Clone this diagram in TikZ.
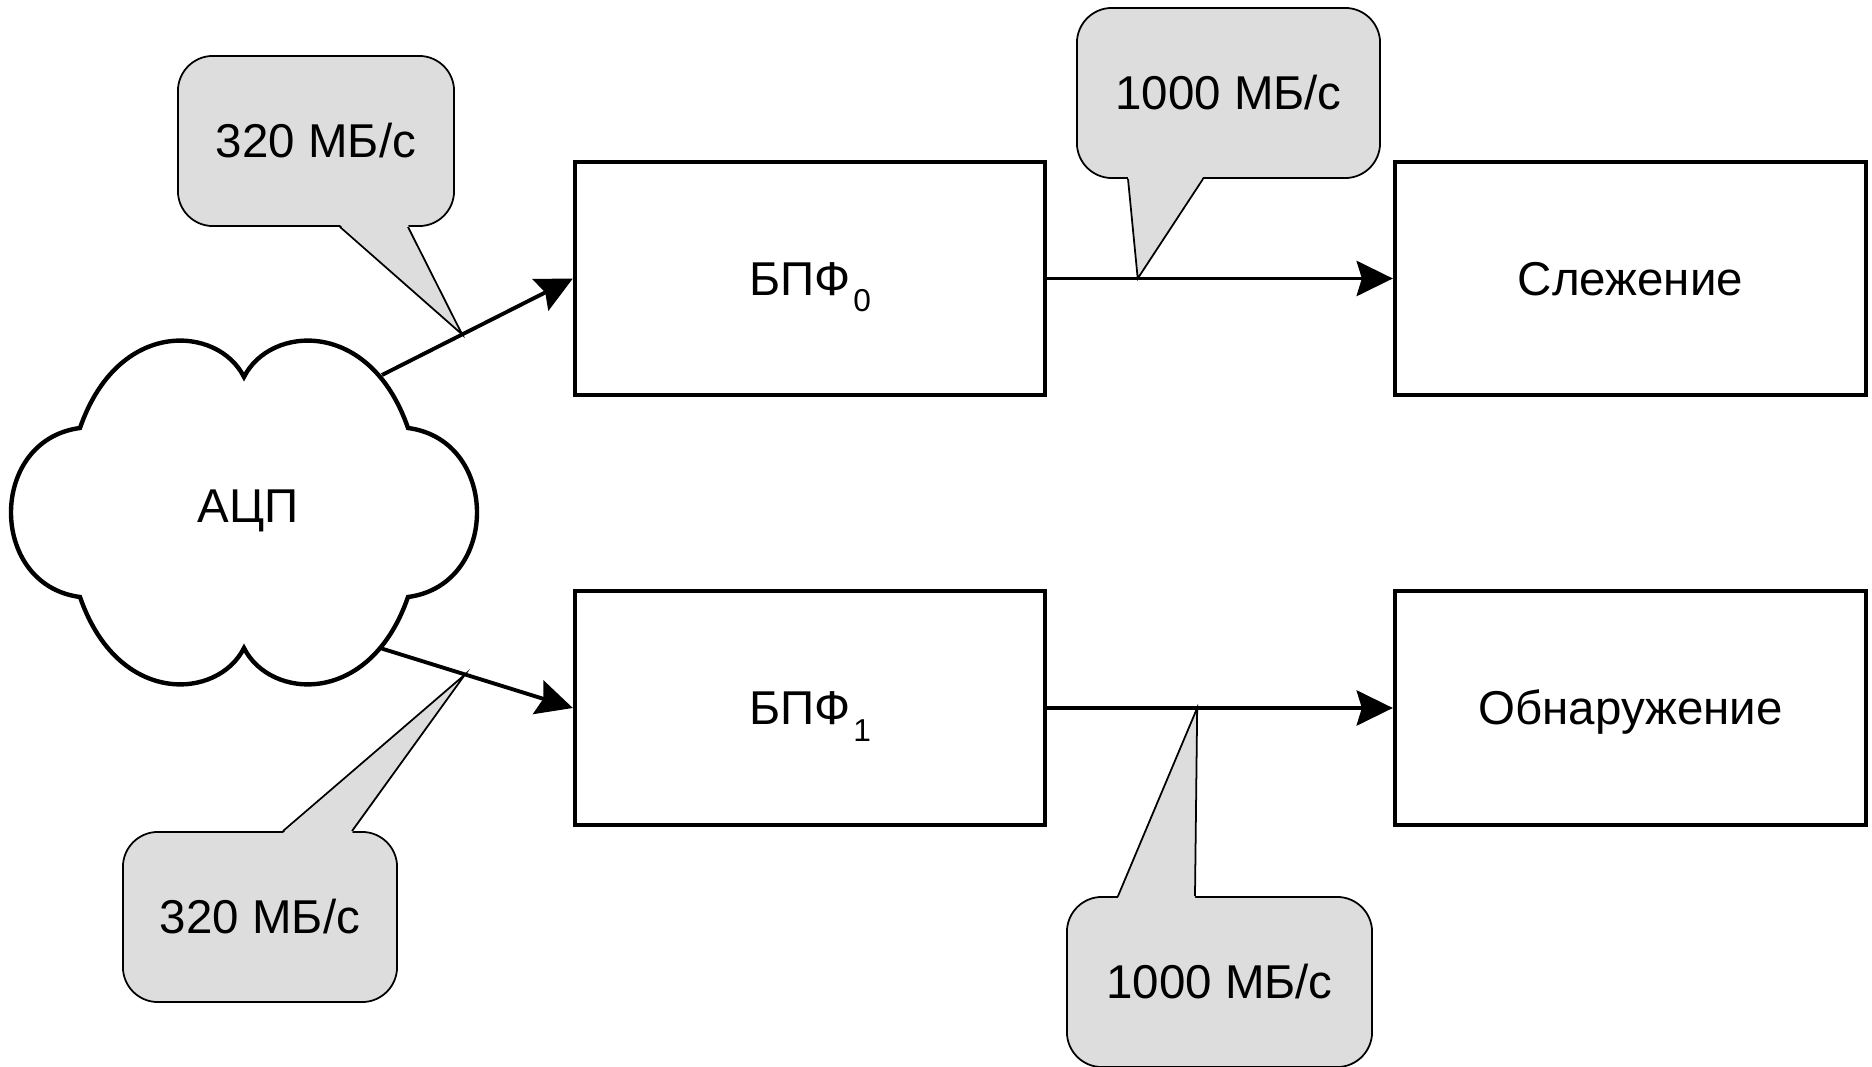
\documentclass[tikz,border=0pt]{standalone}
\usepackage{fontspec}
\setmainfont{Liberation Sans}
\usetikzlibrary{arrows.meta,calc}
\definecolor{callgray}{RGB}{221,221,221}
\tikzset{
  blockbox/.style={draw, line width=1.15pt, minimum width=4.7cm, minimum height=2.33cm, inner sep=0pt,
    text height=9.6pt, text depth=0pt, font=\fontsize{13.5}{16}\selectfont},
  callbox/.style={draw, line width=0.5pt, fill=callgray, rounded corners=0.35cm, inner sep=0pt,
    minimum height=1.7cm, text height=9.6pt, text depth=0pt, font=\fontsize{13.5}{16}\selectfont},
  tailfill/.style={fill=callgray},
  tailline/.style={line width=0.5pt},
  arr/.style={line width=1.1pt, -{Stealth[length=10.3pt,width=10pt,inset=1.5pt]}},
  cloudline/.style={line width=1.25pt},
  lbl/.style={font=\fontsize{13.5}{16}\selectfont, inner sep=0pt, anchor=base}
}
\newcommand{\bpfsub}[1]{БПФ\kern0.8pt\raisebox{-4.6pt}{\fontsize{9}{9}\selectfont #1}}
\begin{document}
\begin{tikzpicture}[x=0.01cm,y=-0.01cm]
\useasboundingbox (0,0) rectangle (1872,1067);
% cloud
\draw[cloudline] (244,377) .. controls (270,325) and (370,318) .. (408,428)
  .. controls (500,440) and (500,585) .. (408,597)
  .. controls (370,707) and (270,700) .. (244,648)
  .. controls (218,700) and (118,707) .. (80,597)
  .. controls (-12,585) and (-12,440) .. (80,428)
  .. controls (118,318) and (218,325) .. (244,377) -- cycle;
\node[lbl] (adc) at (248,523) {АЦП};
\coordinate (adcA) at (382,375);
\coordinate (adcB) at (380,648);
% blocks
\node[blockbox] (bpf0) at (810,278.5) {\bpfsub{0}};
\node[blockbox] (bpf1) at (810,708) {\bpfsub{1}};
\node[blockbox, minimum width=4.71cm] (track) at (1630.5,278.5) {Слежение};
\node[blockbox, minimum width=4.71cm] (detect) at (1630.5,708) {Обнаружение};
% tip coordinates on the connectors
\coordinate (tip1) at ($(adcA)!0.42!(bpf0.west)$);
\coordinate (tip2) at ($(bpf0.east)!0.262!(track.west)$);
\coordinate (tip3) at ($(adcB)!0.441!(bpf1.west)$);
\coordinate (tip4) at ($(bpf1.east)!0.434!(detect.west)$);
% callouts
\node[callbox, minimum width=2.76cm] (c1) at (316,141) {320 МБ/с};
\fill[tailfill] ($(c1.south)+(24,-2)$) -- (tip1) -- ($(c1.south)+(92,-2)$) -- cycle;
\draw[tailline] ($(c1.south)+(24,0)$) -- (tip1) -- ($(c1.south)+(92,0)$);

\node[callbox, minimum width=3.03cm] (c2) at (1228.5,93) {1000 МБ/с};
\fill[tailfill] ($(c2.south)+(-100.5,-2)$) -- (tip2) -- ($(c2.south)+(-25.5,-2)$) -- cycle;
\draw[tailline] ($(c2.south)+(-100.5,0)$) -- (tip2) -- ($(c2.south)+(-25.5,0)$);

\node[callbox, minimum width=2.74cm] (c3) at (260,917) {320 МБ/с};
\fill[tailfill] ($(c3.north)+(23,2)$) -- (tip3) -- ($(c3.north)+(92,2)$) -- cycle;
\draw[tailline] ($(c3.north)+(23,0)$) -- (tip3) -- ($(c3.north)+(92,0)$);

\node[callbox, minimum width=3.05cm] (c4) at (1219.5,982) {1000 МБ/с};
\fill[tailfill] ($(c4.north)+(-101.5,2)$) -- (tip4) -- ($(c4.north)+(-24.5,2)$) -- cycle;
\draw[tailline] ($(c4.north)+(-101.5,0)$) -- (tip4) -- ($(c4.north)+(-24.5,0)$);
% connectors
\draw[arr] (adcA) -- (bpf0.west);
\draw[arr] (adcB) -- (bpf1.west);
\draw[arr] (bpf0.east) -- (track.west);
\draw[arr] (bpf1.east) -- (detect.west);
\end{tikzpicture}
\end{document}
